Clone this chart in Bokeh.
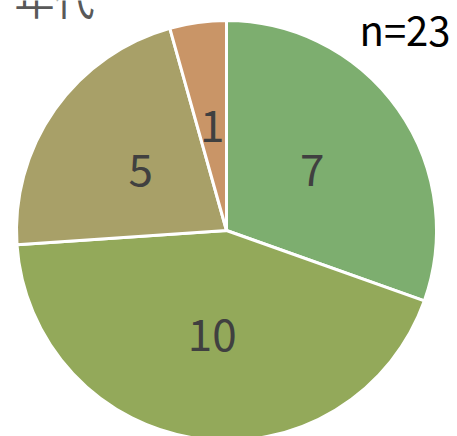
import math
from bokeh.plotting import figure
from bokeh.models import Range1d, ColumnDataSource
from bokeh.core.properties import value
from bokeh.embed import file_html
from bokeh.resources import INLINE

title = "年代"
categories = ["A", "B", "C", "D"]
values = [7, 10, 5, 1]
colors = ["#7DAE6F", "#93A95A", "#A8A068", "#C99567"]
n_label = "n=23"

W, H = 457, 436
cx, cy, r = 226, H - 230, 210

total = sum(values)
starts, ends, lx, ly, labels = [], [], [], [], []
acc = 0
for v in values:
    a0 = math.pi / 2 - 2 * math.pi * acc / total
    a1 = math.pi / 2 - 2 * math.pi * (acc + v) / total
    starts.append(a0)
    ends.append(a1)
    mid = (a0 + a1) / 2
    lx.append(cx + 0.5 * r * math.cos(mid))
    ly.append(cy + 0.5 * r * math.sin(mid))
    labels.append(str(v))
    acc += v

src = ColumnDataSource(dict(start=starts, end=ends, color=colors, lx=lx, ly=ly, label=labels))

p = figure(width=W, height=H, output_backend="svg", toolbar_location=None,
           x_range=Range1d(0, W), y_range=Range1d(0, H), min_border=0)
p.axis.visible = False
p.grid.visible = False
p.outline_line_color = None
p.background_fill_color = "white"

p.wedge(x=cx, y=cy, radius=r, start_angle="start", end_angle="end", direction="clock",
        fill_color="color", line_color="white", line_width=3, source=src)

p.text(x="lx", y="ly", text="label", source=src, text_align="center", text_baseline="middle",
       text_font=value("Noto Sans CJK JP"), text_font_size="44px", text_color="#404040")

p.text(x=[14], y=[H + 3], text=[title], text_align="left", text_baseline="middle",
       text_font=value("Noto Sans CJK JP"), text_font_size="40px", text_color="#595959")
p.text(x=[450], y=[H - 28], text=[n_label], text_align="right", text_baseline="middle",
       text_font=value("Noto Sans CJK JP"), text_font_size="40px", text_color="#000000")

open("out.html", "w").write(file_html(p, INLINE))
